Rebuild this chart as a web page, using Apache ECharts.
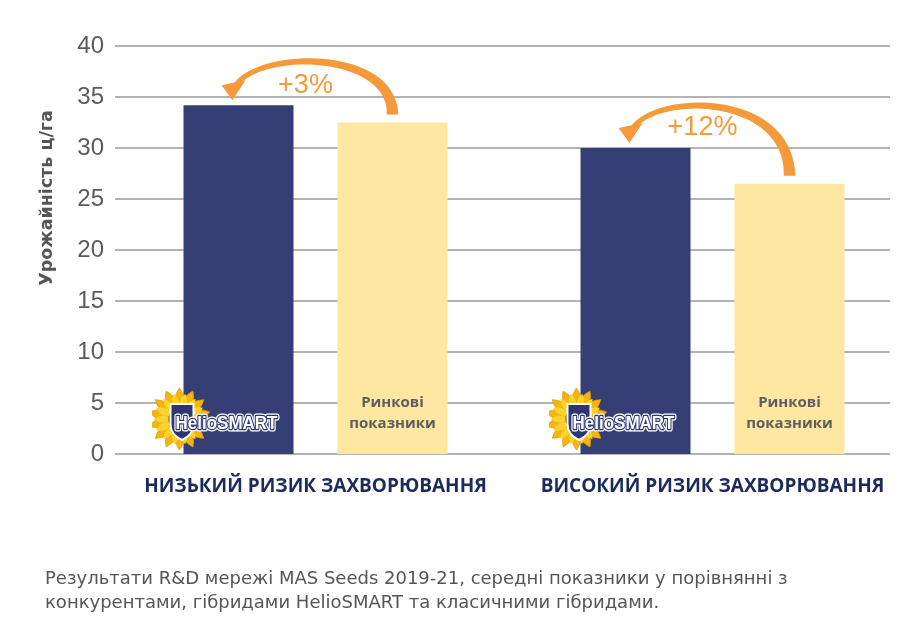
<!DOCTYPE html>
<html>
<head>
<meta charset="utf-8">
<script src="https://cdn.jsdelivr.net/npm/echarts@6/dist/echarts.min.js"></script>
<style>
html,body{margin:0;padding:0;background:#fff;}
#main{width:918px;height:639px;}
</style>
</head>
<body>
<div id="main"></div>
<script>
// ---- data ----
const categories = ['НИЗЬКИЙ РИЗИК ЗАХВОРЮВАННЯ', 'ВИСОКИЙ РИЗИК ЗАХВОРЮВАННЯ'];
const helioSmartYield = [34.2, 30.0];
const marketYield = [32.5, 26.5];
const gainLabels = ['+3%', '+12%'];
const yMin = 0, yMax = 40, yInterval = 5;
const marketBarLabel = 'Ринкові\nпоказники';
const logoText = 'HelioSMART';
const yAxisTitle = 'Урожайність ц/га';
const captionLines = [
  'Результати R&D мережі MAS Seeds 2019-21, середні показники у порівнянні з',
  'конкурентами, гібридами HelioSMART та класичними гібридами.'
];

// ---- colours ----
const NAVY = '#353f75';
const YELLOW = '#fee7a1';
const ORANGE = '#f49a3b';

// ---- logo image (sunflower + shield + wordmark) ----
function logoSvg() {
  let s = '<svg xmlns="http://www.w3.org/2000/svg" width="130" height="70" viewBox="0 0 130 70">';
  const cx = 28, cy = 35;
  function petal(r0, r1, w, ang, fill, stroke) {
    const p = 'M' + cx + ',' + (cy - r0) + ' Q' + (cx + w) + ',' + (cy - (r0 + r1) / 2) + ' ' + cx + ',' + (cy - r1) +
      ' Q' + (cx - w) + ',' + (cy - (r0 + r1) / 2) + ' ' + cx + ',' + (cy - r0) + ' Z';
    return '<path d="' + p + '" fill="' + fill + '"' + (stroke ? ' stroke="' + stroke + '" stroke-width="0.7"' : '') +
      ' transform="rotate(' + ang + ' ' + cx + ' ' + cy + ')"/>';
  }
  for (let i = 0; i < 14; i++) s += petal(8, 31, 9, i * (360 / 14), '#f3b511', '#e29d0a');
  for (let i = 0; i < 14; i++) s += petal(8, 26, 7, i * (360 / 14) + 180 / 14, '#fcd22c', null);
  s += '<circle cx="' + cx + '" cy="' + cy + '" r="11" fill="#7a4a12"/>';
  s += '<path d="M19,20 L42,20 L42,40 Q42,51 30.5,56 Q19,51 19,40 Z" fill="#2c3673" stroke="#ffffff" stroke-width="2"/>';
  const t = 'x="24" y="45" font-family="Liberation Sans, Arial, sans-serif" font-weight="bold" font-size="19" textLength="102" lengthAdjust="spacingAndGlyphs"';
  s += '<text ' + t + ' fill="#fff" stroke="#fff" stroke-width="5" stroke-linejoin="round">' + logoText + '</text>';
  s += '<text ' + t + ' fill="#fff" stroke="#2c3673" stroke-width="2.4" stroke-linejoin="round">' + logoText + '</text>';
  s += '<text ' + t + ' fill="#fff">' + logoText + '</text>';
  s += '</svg>';
  return 'data:image/svg+xml;charset=utf-8,' + encodeURIComponent(s);
}

const chart = echarts.init(document.getElementById('main'), null, {renderer: 'canvas'});
const logoImg = new Image();
let rendered = false;
logoImg.onload = render;
logoImg.onerror = render;
logoImg.src = logoSvg();

function render() {
  if (rendered) return;
  rendered = true;
  const option = {
    animation: false,
    backgroundColor: '#ffffff',
    title: {
      text: captionLines.join('\n'),
      left: 40, top: 562,
      textStyle: {fontFamily: 'DejaVu Sans', fontSize: 18, fontWeight: 'normal', color: '#555555', lineHeight: 24}
    },
    grid: [
      {left: 115, right: 28, top: 46, bottom: 185},
      {left: 117, right: 7, top: 46, bottom: 185}
    ],
    xAxis: [
      {type: 'category', gridIndex: 0, data: categories, show: false},
      {
        type: 'category', gridIndex: 1, data: categories,
        axisLine: {show: false}, axisTick: {show: false},
        axisLabel: {interval: 0, hideOverlap: false, margin: 23, fontFamily: 'Open Sans', fontWeight: 'bold', fontSize: 19, color: '#1c2a5c'}
      }
    ],
    yAxis: [
      {
        type: 'value', gridIndex: 0, min: yMin, max: yMax, interval: yInterval,
        axisLine: {show: false}, axisTick: {show: false},
        axisLabel: {margin: 11, fontFamily: 'Liberation Sans', fontSize: 24, color: '#5b5b5b'},
        splitLine: {lineStyle: {color: '#b3b3b3', width: 2}}
      },
      {type: 'value', gridIndex: 1, min: yMin, max: yMax, interval: yInterval, show: false, splitLine: {show: false}}
    ],
    series: [
      {
        type: 'bar', xAxisIndex: 1, yAxisIndex: 1, data: helioSmartYield,
        barWidth: 110, barGap: '40%',
        itemStyle: {color: NAVY},
        label: {
          show: true, position: 'insideBottomLeft', distance: 0, offset: [-32, 0],
          formatter: '{logo|}',
          rich: {logo: {width: 130, height: 70, backgroundColor: {image: logoImg}}}
        }
      },
      {
        type: 'bar', xAxisIndex: 1, yAxisIndex: 1, data: marketYield,
        barWidth: 110,
        itemStyle: {color: YELLOW},
        label: {
          show: true, position: 'insideBottom', distance: 20,
          formatter: marketBarLabel,
          fontFamily: 'Open Sans', fontWeight: 'bold', fontSize: 15, lineHeight: 21, color: '#5e5e5e'
        }
      }
    ]
  };
  chart.setOption(option);
  drawAnnotations();
}

function barGeom(seriesIndex, i) {
  const l = chart.getModel().getSeriesByIndex(seriesIndex).getData().getItemLayout(i);
  return {cx: l.x + l.width / 2, top: Math.min(l.y, l.y + l.height)};
}

function bez(p0, p1, p2, p3, t) {
  const u = 1 - t;
  return [
    u*u*u*p0[0] + 3*u*u*t*p1[0] + 3*u*t*t*p2[0] + t*t*t*p3[0],
    u*u*u*p0[1] + 3*u*u*t*p1[1] + 3*u*t*t*p2[1] + t*t*t*p3[1]
  ];
}
function dbez(p0, p1, p2, p3, t) {
  const u = 1 - t;
  return [
    3*u*u*(p1[0]-p0[0]) + 6*u*t*(p2[0]-p1[0]) + 3*t*t*(p3[0]-p2[0]),
    3*u*u*(p1[1]-p0[1]) + 6*u*t*(p2[1]-p1[1]) + 3*t*t*(p3[1]-p2[1])
  ];
}

function drawAnnotations() {
  const graphics = [];
  graphics.push({
    type: 'text', x: 47, y: 198, rotation: Math.PI / 2,
    style: {text: yAxisTitle, fontFamily: 'DejaVu Sans', fontWeight: 'bold', fontSize: 17.5, fill: '#555555', align: 'center', verticalAlign: 'middle'}
  });
  for (let i = 0; i < categories.length; i++) {
    const n = barGeom(0, i);
    const m = barGeom(1, i);
    const nx = n.cx, ny = n.top;
    const S = [m.cx, m.top - 8];
    const E = [nx - 4, ny - 18];
    const C1 = [m.cx, ny - 56];
    const C2 = [nx + 18, ny - 56];
    const left = [], right = [];
    const N = 40;
    for (let k = 0; k <= N; k++) {
      const t = k / N;
      const p = bez(S, C1, C2, E, t);
      const d = dbez(S, C1, C2, E, t);
      const len = Math.hypot(d[0], d[1]) || 1;
      const nrm = [-d[1] / len, d[0] / len];
      const w = (5 + 6.5 * (1 - t) * (1 - t)) / 2;
      left.push([p[0] + nrm[0] * w, p[1] + nrm[1] * w]);
      right.push([p[0] - nrm[0] * w, p[1] - nrm[1] * w]);
    }
    graphics.push({type: 'polygon', shape: {points: left.concat(right.reverse())}, style: {fill: ORANGE}});
    graphics.push({
      type: 'polygon',
      shape: {points: [[nx - 6, ny - 5], [nx - 17, ny - 20], [nx + 7, ny - 25]]},
      style: {fill: ORANGE}
    });
    graphics.push({
      type: 'text', x: nx + 67, y: ny - 20,
      style: {text: gainLabels[i], fontFamily: 'Liberation Sans', fontSize: 27, fill: ORANGE, align: 'center', verticalAlign: 'middle'}
    });
  }
  chart.setOption({graphic: graphics});
}
</script>
</body>
</html>
